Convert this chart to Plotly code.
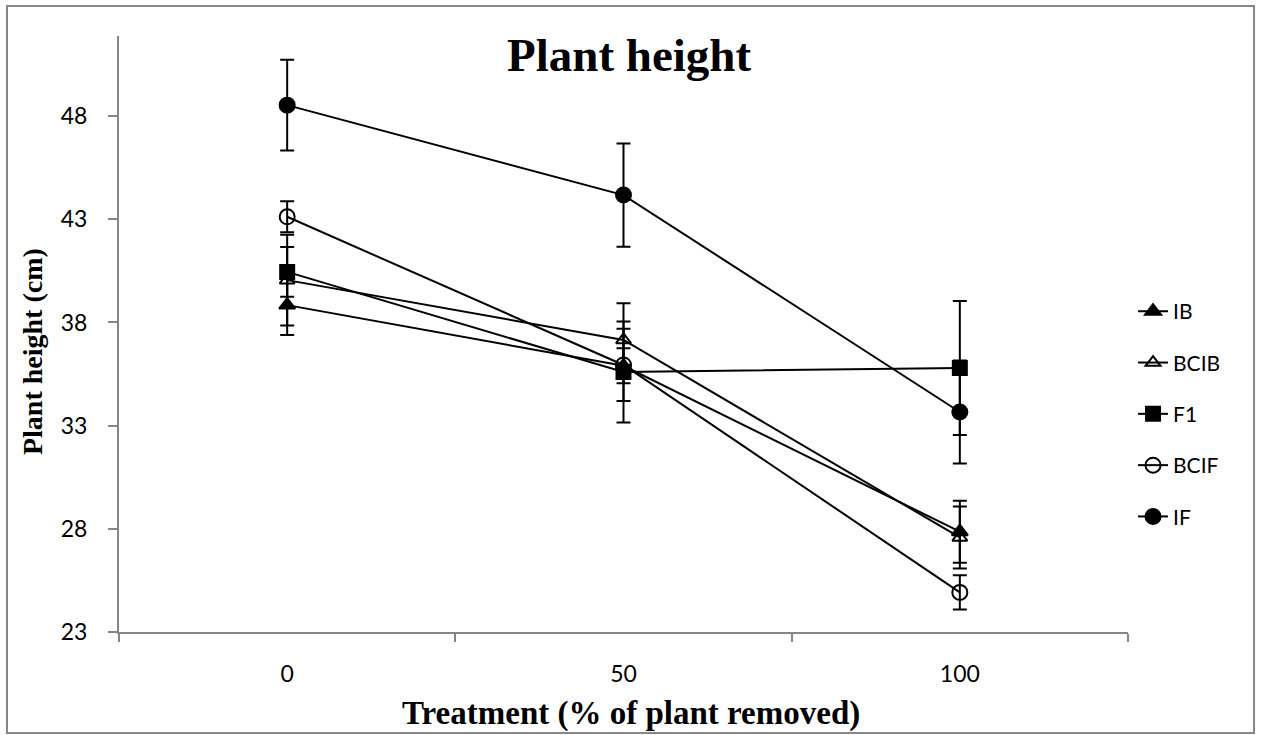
import plotly.graph_objects as go

treatments = ["0", "50", "100"]
series_names = ["IB", "BCIB", "F1", "BCIF", "IF"]
ib = [38.84, 35.9, 27.86]
ib_err = [1.45, 0.85, 1.5]
bcib = [40.05, 37.15, 27.58]
bcib_err = [2.2, 1.78, 1.5]
f1 = [40.45, 35.6, 35.79]
f1_err = [1.2, 2.45, 3.25]
bcif = [43.12, 35.94, 24.92]
bcif_err = [0.75, 1.75, 0.83]
if_vals = [48.53, 44.17, 33.66]
if_err = [2.2, 2.5, 2.5]
y_ticks = [23, 28, 33, 38, 43, 48]

values = [ib, bcib, f1, bcif, if_vals]
errors = [ib_err, bcib_err, f1_err, bcif_err, if_err]
symbols = ["triangle-up", "triangle-up-open", "square", "circle-open", "circle"]
sizes = [14, 13, 14, 15, 15]

fig = go.Figure()
for name, v, e, sym, sz in zip(series_names, values, errors, symbols, sizes):
    fig.add_trace(go.Scatter(
        x=treatments, y=v, name=name, mode="lines+markers",
        legendgroup=name,
        line=dict(color="black", width=2),
        marker=dict(symbol=sym, size=sz, color="black", line=dict(color="black", width=2)),
        error_y=dict(type="data", array=e, visible=True, color="black", thickness=2, width=7),
    ))

axis_gray = "#868686"
fig.update_layout(
    width=1264, height=735,
    margin=dict(l=119, r=136, t=36, b=103),
    paper_bgcolor="white", plot_bgcolor="white",
    showlegend=True,
    legend=dict(x=1.005, y=0.572, xanchor="left", yanchor="top",
                font=dict(family="Lato", size=21, color="black"),
                traceorder="grouped", tracegroupgap=21,
                bgcolor="rgba(0,0,0,0)"),
    xaxis=dict(type="category", range=[-0.5, 2.5], showline=True, linecolor=axis_gray, linewidth=2,
               ticks="outside", tickson="boundaries", ticklen=8, tickcolor=axis_gray, tickwidth=2,
               ticklabelstandoff=20,
               showgrid=False, zeroline=False,
               tickfont=dict(family="Lato", size=23, color="black")),
    yaxis=dict(range=[23, 51.88], tickvals=y_ticks, showline=True, linecolor=axis_gray, linewidth=2,
               ticks="outside", ticklen=9, tickcolor=axis_gray, tickwidth=2,
               ticklabelstandoff=16,
               showgrid=False, zeroline=False,
               tickfont=dict(family="Lato", size=23, color="black")),
    shapes=[dict(type="rect", xref="paper", yref="paper", x0=-0.111, x1=1.1249, y0=-0.1695, y1=1.0503,
                 line=dict(color="#878787", width=2), fillcolor="rgba(0,0,0,0)", layer="below")],
    annotations=[
        dict(text="<b>Plant height</b>", xref="paper", yref="paper", x=0.5064, y=0.968,
             xanchor="center", yanchor="middle", showarrow=False,
             font=dict(family="Liberation Serif", size=47, color="black")),
        dict(text="<b>Treatment (% of plant removed)</b>", xref="paper", yref="paper", x=0.5074, y=-0.136,
             xanchor="center", yanchor="middle", showarrow=False,
             font=dict(family="Liberation Serif", size=33, color="black")),
        dict(text="<b>Plant height (cm)</b>", xref="paper", yref="paper", x=-0.0852, y=0.4698,
             xanchor="center", yanchor="middle", showarrow=False, textangle=-90,
             font=dict(family="Liberation Serif", size=28, color="black")),
    ],
)

fig.write_html("out.html")
